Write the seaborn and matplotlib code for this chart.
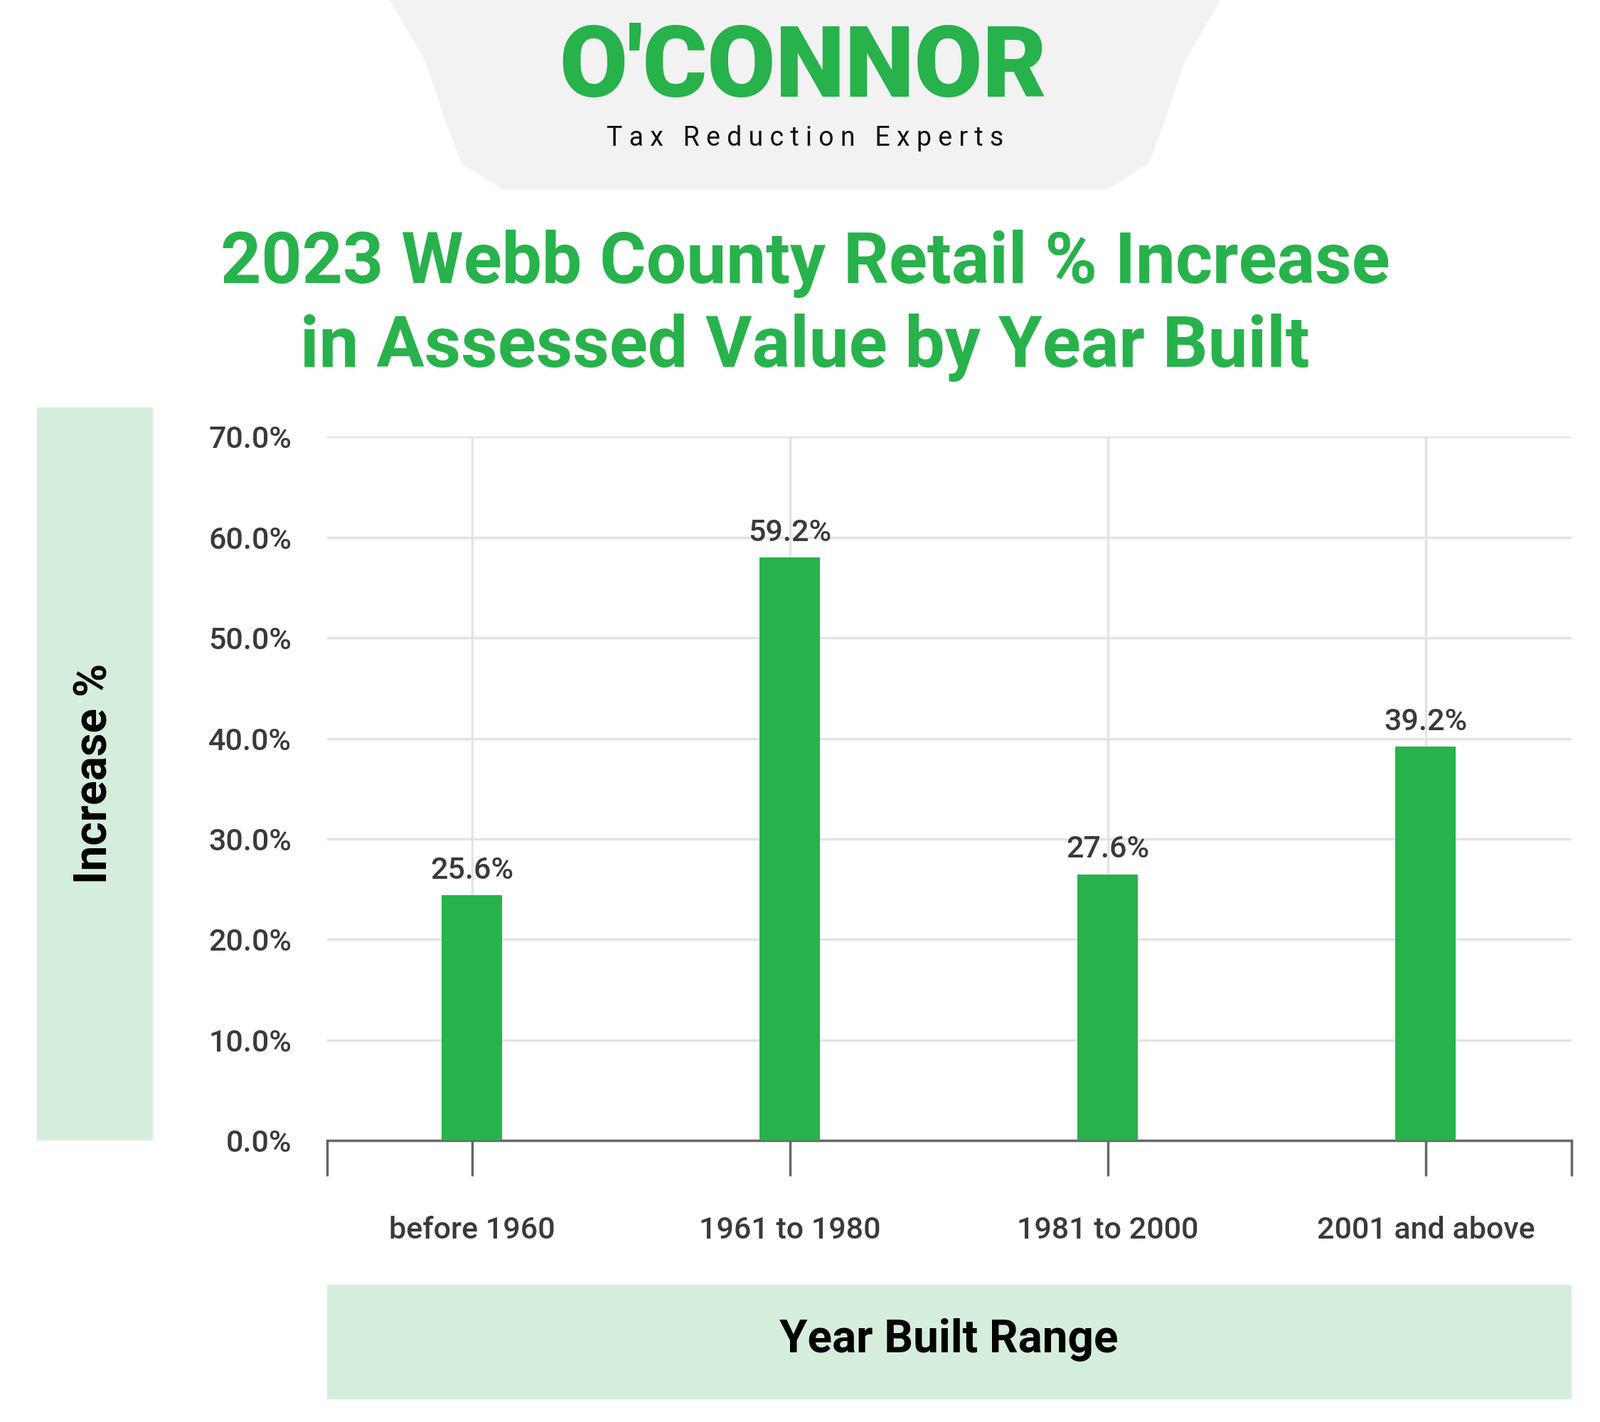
import matplotlib
matplotlib.use("Agg")
import matplotlib.pyplot as plt
from matplotlib.patches import Rectangle, Polygon
import seaborn as sns
import pandas as pd

categories = ["before 1960", "1961 to 1980", "1981 to 2000", "2001 and above"]
values = [24.4, 58.0, 26.5, 39.2]
value_labels = ["25.6%", "59.2%", "27.6%", "39.2%"]
yticks = [0, 10, 20, 30, 40, 50, 60, 70]

GREEN = "#27b24b"
LIGHT = "#d5eedc"
W, H = 1560, 1390
plt.rcParams["font.family"] = "Roboto"

fig = plt.figure(figsize=(22.5, 20), dpi=100)

def fx(x): return x / W
def fy(y): return 1 - y / H

bg = fig.add_axes([0, 0, 1, 1], zorder=0)
bg.set_xlim(0, W); bg.set_ylim(H, 0); bg.axis("off")
bg.add_patch(Polygon([(380, 0), (1190, 0), (1155, 60), (1135, 120), (1120, 160), (1080, 185),
                      (490, 185), (450, 160), (435, 120), (415, 60)], closed=True,
                     facecolor="#f2f2f2", edgecolor="none"))
bg.add_patch(Rectangle((36, 398), 113, 717, facecolor=LIGHT, edgecolor="none"))
bg.add_patch(Rectangle((319, 1256), 1213, 112, facecolor=LIGHT, edgecolor="none"))

fig.text(fx(783), fy(68), "O'CONNOR", ha="center", va="center", fontsize=100,
         fontweight="black", color=GREEN)
fig.text(fx(785), fy(135), "   ".join(" ".join(w) for w in "Tax Reduction Experts".split(" ")),
         ha="center", va="center", fontsize=27, color="#111111")
fig.text(fx(785), fy(258), "2023 Webb County Retail % Increase", ha="center",
         va="center", fontsize=72, fontweight="bold", color=GREEN)
fig.text(fx(785), fy(340), "in Assessed Value by Year Built", ha="center",
         va="center", fontsize=72, fontweight="bold", color=GREEN)
fig.text(fx(92), fy(756), "Increase %", rotation=90, ha="center", va="center",
         fontsize=46, fontweight="bold", color="black")
fig.text(fx(925), fy(1310), "Year Built Range", ha="center", va="center",
         fontsize=46, fontweight="bold", color="black")

ax = fig.add_axes([fx(319), fy(1115), fx(1532) - fx(319), fy(427) - fy(1115)], zorder=1)
ax.patch.set_alpha(0)
df = pd.DataFrame({"cat": categories, "val": values})
sns.barplot(data=df, x="cat", y="val", color=GREEN, width=0.19, saturation=1, ax=ax, zorder=3)
for p in ax.patches:
    p.set_edgecolor("none")
for i, (v, lab) in enumerate(zip(values, value_labels)):
    ax.text(i, v + 1.0, lab, ha="center", va="bottom", fontsize=31,
            fontweight="medium", color="#3a3a3a")
ax.set_xlim(-0.455, 3.458)
ax.set_ylim(0, 70)
ax.set_yticks(yticks)
ax.set_yticklabels([f"{t:.1f}%" for t in yticks], fontsize=31, fontweight="medium", color="#3a3a3a")
ax.set_xticks([-0.455, 0, 1, 2, 3, 3.458])
ax.set_xticklabels([""] + categories + [""], fontsize=31, fontweight="medium", color="#3a3a3a")
ax.tick_params(axis="x", length=36, width=2.5, color="#666666", pad=40)
ax.tick_params(axis="y", length=0, pad=36)
ax.grid(True, color="#e3e3e3", linewidth=2.5, zorder=0)
ax.set_axisbelow(True)
xg = ax.get_xgridlines()
xg[0].set_visible(False); xg[-1].set_visible(False)
for s in ["top", "right", "left"]:
    ax.spines[s].set_visible(False)
ax.spines["bottom"].set_color("#666666")
ax.spines["bottom"].set_linewidth(2.5)
ax.set_xlabel(""); ax.set_ylabel("")

fig.savefig("out.png", dpi=100, facecolor="white")
